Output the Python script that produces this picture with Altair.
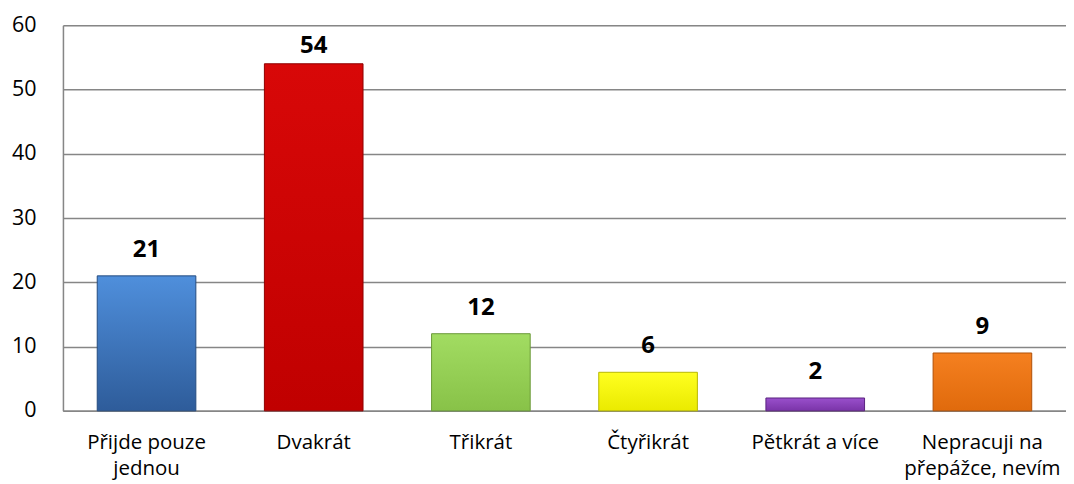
import altair as alt
import pandas as pd

categories = ["Přijde pouze\njednou", "Dvakrát", "Třikrát", "Čtyřikrát", "Pětkrát a více", "Nepracuji na\npřepážce, nevím"]
values = [21, 54, 12, 6, 2, 9]
top_colors = ["#4f8fdc", "#d80808", "#a2dc62", "#ffff20", "#9a50cc", "#f58020"]
bottom_colors = ["#2e5c9a", "#c00000", "#88c248", "#eaea00", "#7a34a8", "#e06a0c"]
stroke_colors = ["#254c80", "#900000", "#6a9a38", "#b8b800", "#5a2280", "#b05008"]

df = pd.DataFrame({"cat": categories, "val": values})

FONT = "Open Sans"

x_enc = alt.X("cat:N", sort=categories, title=None,
              scale=alt.Scale(paddingInner=0.41, paddingOuter=0.205),
              axis=alt.Axis(labelAngle=0, labelFontSize=20.5, labelFont=FONT, labelColor="#000",
                            labelPadding=22, labelLineHeight=26, labelLimit=250,
                            labelExpr="split(datum.label, '\\n')",
                            ticks=False, domainColor="#868686", domainWidth=1.5))
y_enc = alt.Y("val:Q", title=None,
              scale=alt.Scale(domain=[0, 60]),
              axis=alt.Axis(values=[0, 10, 20, 30, 40, 50, 60], labelFontSize=21.5, labelFont=FONT,
                            labelColor="#000", labelPadding=27, ticks=False,
                            grid=True, gridColor="#868686", gridWidth=1.5,
                            domainColor="#868686", domainWidth=1.5))

layers = []
for i, c in enumerate(categories):
    layers.append(
        alt.Chart(df).transform_filter(alt.datum.cat == c).mark_bar(
            color=alt.Gradient(gradient="linear", x1=0, x2=0, y1=0, y2=1,
                               stops=[alt.GradientStop(color=top_colors[i], offset=0),
                                      alt.GradientStop(color=bottom_colors[i], offset=1)]),
            stroke=stroke_colors[i], strokeWidth=1
        ).encode(x=x_enc, y=y_enc)
    )

# labels kept inside the plot area, as the original chart does for the tallest bar
text = alt.Chart(df).transform_calculate(
    lab_pos="min(datum.val, 52.8)"
).mark_text(font=FONT, fontSize=24, fontWeight="bold", color="#000",
            baseline="alphabetic", dy=-19).encode(
    x=alt.X("cat:N", sort=categories), y=alt.Y("lab_pos:Q", scale=alt.Scale(domain=[0, 60])),
    text="val:Q")

chart = alt.layer(*layers, text).properties(
    width=1004, height=386,
    autosize=alt.AutoSizeParams(type="none"),
    padding={"left": 55, "top": 17, "right": 0, "bottom": 75},
).configure_view(stroke=None).configure(background="white")

chart.save("out.html", embed_options={"renderer": "svg", "actions": False})
